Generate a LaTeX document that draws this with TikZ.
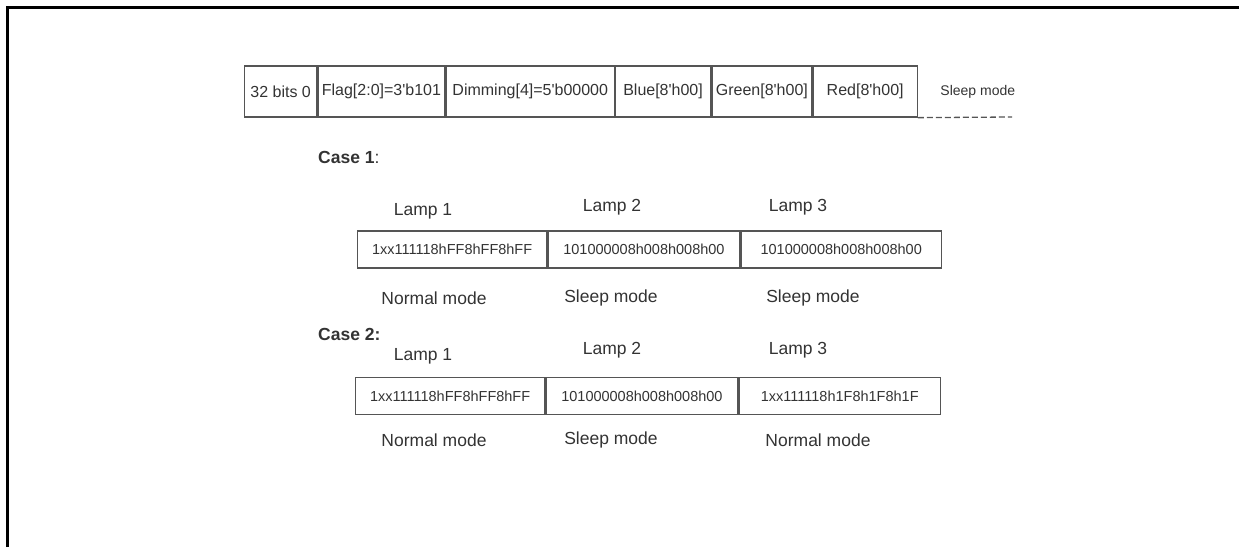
\documentclass[tikz,border=0pt]{standalone}
\usepackage{fontspec}
\setmainfont{Liberation Sans}
\usetikzlibrary{positioning}
\definecolor{txtgray}{HTML}{333333}
\definecolor{linegray}{HTML}{555555}

\begin{document}
\begin{tikzpicture}[x=1pt,y=-1pt,node distance=0pt,
    every node/.style={text=txtgray},
    field/.style={draw=linegray, line width=1.3pt, minimum height=51pt, inner sep=0pt, font=\fontsize{16}{19}\selectfont},
    lampcell/.style={draw=linegray, line width=1.3pt, minimum height=37pt, inner sep=0pt, font=\fontsize{14.5}{17}\selectfont},
    lamptext/.style={font=\fontsize{17.5}{21}\selectfont},
    casetext/.style={anchor=west, inner sep=0pt, font=\fontsize{17.5}{21}\selectfont}]
    \useasboundingbox (0,0) rectangle (1239,547);
    \draw[line width=3pt] (7,547) -- (7,7) -- (1239,7);

    % frame layout
    \node[field, minimum width=72pt, anchor=west] (bits) at (244,91.5) {32 bits 0};
    \node[field, minimum width=127pt, right=of bits] (flag) {Flag[2:0]=3\textquotesingle b101};
    \node[field, minimum width=168pt, right=of flag] (dim) {Dimming[4]=5\textquotesingle b00000};
    \node[field, minimum width=95pt, right=of dim] (blue) {Blue[8\textquotesingle h00]};
    \node[field, minimum width=100pt, right=of blue] (green) {Green[8\textquotesingle h00]};
    \node[field, minimum width=104pt, right=of green] (red) {Red[8\textquotesingle h00]};
    \node[field, draw=none, right=22pt of red, font=\fontsize{14}{17}\selectfont] (sleep) {Sleep mode};
    \coordinate (dashend) at (1012,117);
    \draw[linegray, line width=1.3pt, dash pattern=on 6pt off 3pt] (red.south east) -- (dashend);

    % case 1
    \node[casetext] (case1) at (318,157) {\textbf{Case 1}:};
    \node[lampcell, minimum width=189pt, anchor=west] (c1l1) at (357,249.5) {1xx111118hFF8hFF8hFF};
    \node[lampcell, minimum width=192pt, right=of c1l1] (c1l2) {101000008h008h008h00};
    \node[lampcell, minimum width=200pt, right=of c1l2] (c1l3) {101000008h008h008h00};
    \node[lamptext] (c1n1) at (423,211) {Lamp 1};
    \node[lamptext] (c1n2) at (612,207) {Lamp 2};
    \node[lamptext] (c1n3) at (798,207) {Lamp 3};
    \node[lamptext] (c1m1) at (434,298) {Normal mode};
    \node[lamptext] (c1m2) at (611,298) {Sleep mode};
    \node[lamptext] (c1m3) at (813,298) {Sleep mode};

    % case 2
    \node[casetext] (case2) at (318,334) {\textbf{Case 2:}};
    \node[lampcell, minimum width=189pt, anchor=west] (c2l1) at (355,396) {1xx111118hFF8hFF8hFF};
    \node[lampcell, minimum width=192pt, right=of c2l1] (c2l2) {101000008h008h008h00};
    \node[lampcell, minimum width=201pt, right=of c2l2] (c2l3) {1xx111118h1F8h1F8h1F};
    \node[lamptext] (c2n1) at (423,356) {Lamp 1};
    \node[lamptext] (c2n2) at (612,350) {Lamp 2};
    \node[lamptext] (c2n3) at (798,350) {Lamp 3};
    \node[lamptext] (c2m1) at (434,440) {Normal mode};
    \node[lamptext] (c2m2) at (611,440) {Sleep mode};
    \node[lamptext] (c2m3) at (818,440) {Normal mode};
\end{tikzpicture}
\end{document}
